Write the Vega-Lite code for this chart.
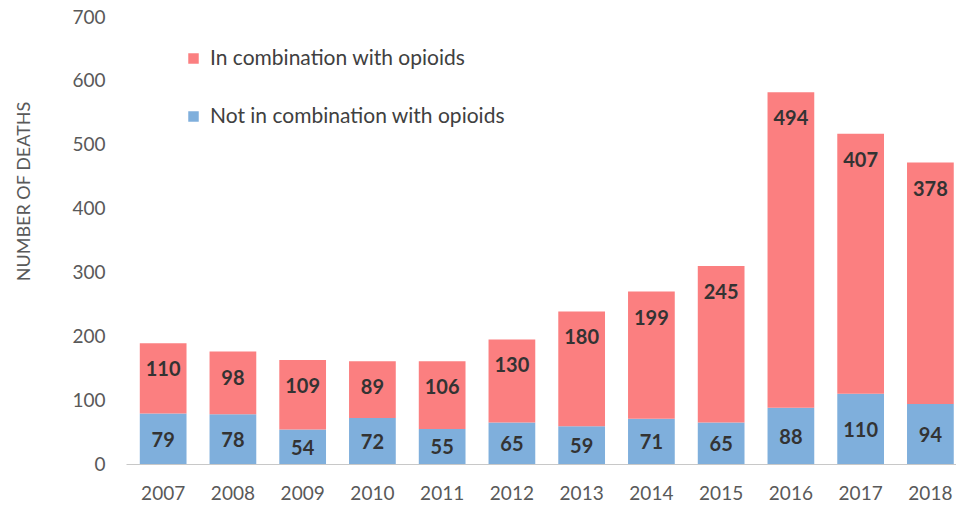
{
  "$schema": "https://vega.github.io/schema/vega-lite/v6.json",
  "width": 956,
  "height": 507,
  "autosize": {"type": "fit", "contains": "padding"},
  "padding": {"left": 15, "top": 8, "right": 0, "bottom": 4},
  "background": "white",
  "config": {
    "view": {"stroke": null},
    "font": "Lato"
  },
  "data": {
    "values": [
      {"year": "2007", "series": "Not in combination with opioids", "value": 79},
      {"year": "2008", "series": "Not in combination with opioids", "value": 78},
      {"year": "2009", "series": "Not in combination with opioids", "value": 54},
      {"year": "2010", "series": "Not in combination with opioids", "value": 72},
      {"year": "2011", "series": "Not in combination with opioids", "value": 55},
      {"year": "2012", "series": "Not in combination with opioids", "value": 65},
      {"year": "2013", "series": "Not in combination with opioids", "value": 59},
      {"year": "2014", "series": "Not in combination with opioids", "value": 71},
      {"year": "2015", "series": "Not in combination with opioids", "value": 65},
      {"year": "2016", "series": "Not in combination with opioids", "value": 88},
      {"year": "2017", "series": "Not in combination with opioids", "value": 110},
      {"year": "2018", "series": "Not in combination with opioids", "value": 94},
      {"year": "2007", "series": "In combination with opioids", "value": 110},
      {"year": "2008", "series": "In combination with opioids", "value": 98},
      {"year": "2009", "series": "In combination with opioids", "value": 109},
      {"year": "2010", "series": "In combination with opioids", "value": 89},
      {"year": "2011", "series": "In combination with opioids", "value": 106},
      {"year": "2012", "series": "In combination with opioids", "value": 130},
      {"year": "2013", "series": "In combination with opioids", "value": 180},
      {"year": "2014", "series": "In combination with opioids", "value": 199},
      {"year": "2015", "series": "In combination with opioids", "value": 245},
      {"year": "2016", "series": "In combination with opioids", "value": 494},
      {"year": "2017", "series": "In combination with opioids", "value": 407},
      {"year": "2018", "series": "In combination with opioids", "value": 378}
    ]
  },
  "encoding": {
    "x": {
      "field": "year",
      "type": "ordinal",
      "scale": {"paddingInner": 0.33, "paddingOuter": 0.115, "align": 0.86},
      "axis": {
        "title": null,
        "labelAngle": 0,
        "labelFontSize": 19,
        "labelColor": "#595959",
        "labelPadding": 20,
        "domainColor": "#c8c8c8",
        "ticks": false
      }
    }
  },
  "layer": [
    {
      "mark": {"type": "bar"},
      "encoding": {
        "y": {
          "field": "value",
          "type": "quantitative",
          "stack": "zero",
          "scale": {"domain": [0, 700]},
          "axis": {
            "title": "NUMBER OF DEATHS",
            "titleFontSize": 18,
            "titleFontWeight": "normal",
            "titleColor": "#595959",
            "titlePadding": 38,
            "titleY": 174,
            "values": [0, 100, 200, 300, 400, 500, 600, 700],
            "labelOverlap": false,
            "labelFontSize": 19,
            "labelColor": "#595959",
            "labelPadding": 21,
            "domain": false,
            "ticks": false,
            "grid": false
          }
        },
        "color": {
          "field": "series",
          "type": "nominal",
          "scale": {
            "domain": ["In combination with opioids", "Not in combination with opioids"],
            "range": ["#fb7f80", "#7fafdc"]
          },
          "legend": {
            "title": null,
            "orient": "none",
            "legendX": 57,
            "legendY": 31,
            "padding": 0,
            "symbolType": "square",
            "symbolSize": 110,
            "symbolStrokeWidth": 0,
            "labelFontSize": 21,
            "labelLimit": 600,
            "labelColor": "#404040",
            "rowPadding": 36,
            "labelOffset": 6
          }
        },
        "order": {"field": "series", "sort": "descending"}
      }
    },
    {
      "transform": [
        {"joinaggregate": [{"op": "sum", "field": "value", "as": "total"}], "groupby": ["year"]},
        {"filter": "datum.series == 'In combination with opioids'"}
      ],
      "mark": {"type": "text", "fontSize": 20, "fontWeight": "bold", "color": "#333333", "baseline": "middle", "dy": 27},
      "encoding": {
        "y": {
          "field": "total",
          "type": "quantitative",
          "scale": {"domain": [0, 700]},
          "axis": null
        },
        "text": {"field": "value", "type": "quantitative"}
      }
    },
    {
      "transform": [{"filter": "datum.series == 'Not in combination with opioids'"}],
      "mark": {"type": "text", "fontSize": 20, "fontWeight": "bold", "color": "#333333", "baseline": "middle", "dy": 2},
      "encoding": {
        "y": {
          "field": "value",
          "type": "quantitative",
          "scale": {"domain": [0, 1400]},
          "axis": null
        },
        "text": {"field": "value", "type": "quantitative"}
      }
    }
  ],
  "resolve": {"scale": {"y": "independent"}}
}
